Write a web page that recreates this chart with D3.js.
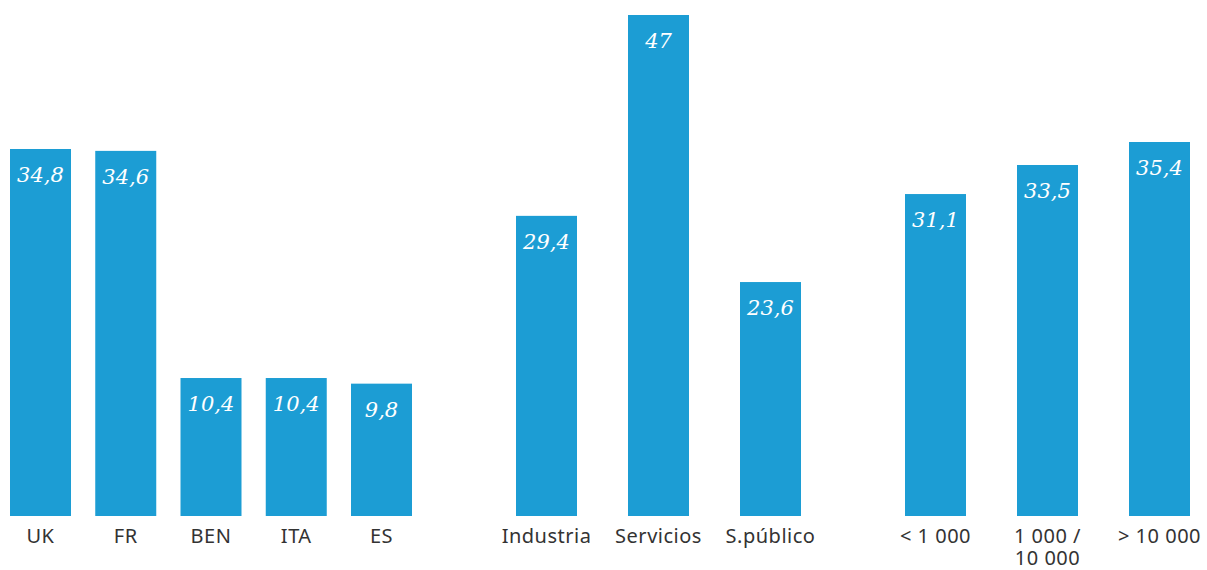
<!DOCTYPE html>
<html><head><meta charset="utf-8">
<script src="https://cdn.jsdelivr.net/npm/d3@7"></script>
<style>body{margin:0;background:#fff}svg{display:block}</style>
</head><body>
<script>
// Panel 1: countries
const countries = ["UK", "FR", "BEN", "ITA", "ES"];
const countryValues = [34.8, 34.6, 10.4, 10.4, 9.8];
// Panel 2: sectors
const sectors = ["Industria", "Servicios", "S.público"];
const sectorValues = [29.4, 47, 23.6];
// Panel 3: company size
const sizes = ["< 1 000", "1 000 /\n10 000", "> 10 000"];
const sizeValues = [31.1, 33.5, 35.4];

const W = 1207, H = 570, base = 516;
const color = "#1c9dd4";
const svg = d3.select("body").append("svg").attr("width", W).attr("height", H);

const panels = [
  {cats: countries, vals: countryValues, x0: 10, step: 85.25, dom: [-4.3, 34.8], top: 149},
  {cats: sectors, vals: sectorValues, x0: 516, step: 112, dom: [3.1, 47], top: 15},
  {cats: sizes, vals: sizeValues, x0: 905, step: 112, dom: [4.5, 35.4], top: 142}
];

panels.forEach(p => {
  const n = p.cats.length;
  const barW = 61;
  const x = d3.scaleBand().domain(p.cats)
    .range([p.x0, p.x0 + p.step * (n - 1) + barW])
    .paddingInner((p.step - barW) / p.step).paddingOuter(0);
  const y = d3.scaleLinear().domain(p.dom).range([base, p.top]);
  const g = svg.append("g");
  const data = p.cats.map((c, i) => ({c, v: p.vals[i]}));
  g.selectAll("rect").data(data).join("rect")
    .attr("x", d => x(d.c)).attr("width", x.bandwidth())
    .attr("y", d => y(d.v)).attr("height", d => base - y(d.v))
    .attr("fill", color);
  g.selectAll("text.val").data(data).join("text").attr("class", "val")
    .attr("x", d => x(d.c) + x.bandwidth() / 2)
    .attr("y", d => y(d.v) + 33)
    .attr("text-anchor", "middle")
    .attr("font-family", "'DejaVu Serif', serif").attr("font-style", "italic")
    .attr("font-size", 21).attr("fill", "#fff")
    .text(d => String(d.v).replace(".", ","));
  const axis = d3.axisBottom(x).tickSize(0).tickPadding(0);
  const ag = g.append("g").attr("transform", `translate(0,${base})`).call(axis);
  ag.select(".domain").remove();
  ag.selectAll(".tick text").each(function(d) {
    const t = d3.select(this).text(null)
      .attr("y", 27).attr("dy", 0)
      .attr("font-family", "'Noto Sans', sans-serif").attr("font-size", 20)
      .attr("letter-spacing", 0.5)
      .attr("fill", "#333");
    d.split("\n").forEach((line, i) => {
      t.append("tspan").attr("x", 0).attr("dy", i === 0 ? 0 : 22).text(line);
    });
  });
});
</script>
</body></html>
